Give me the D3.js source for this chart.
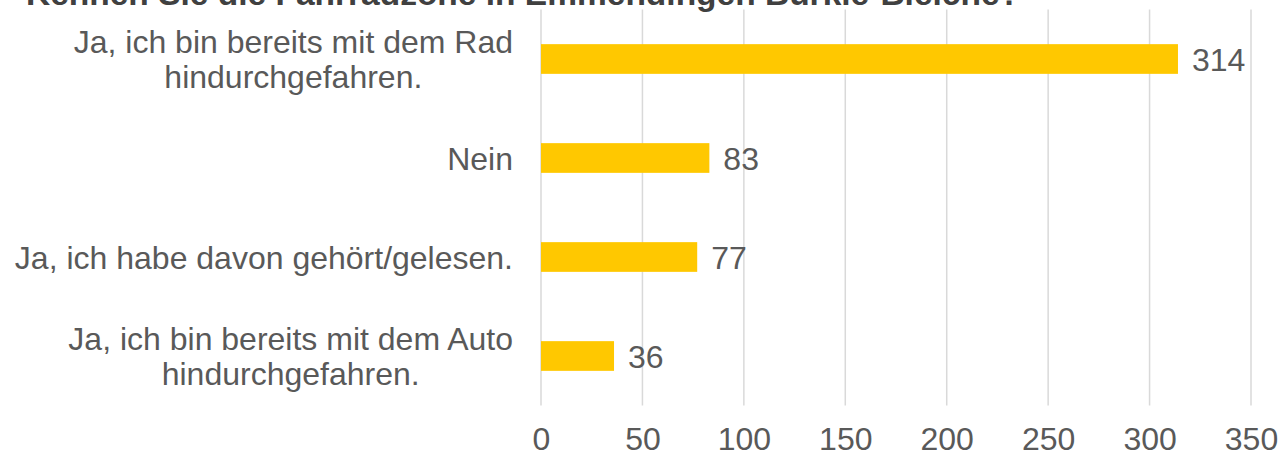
<!DOCTYPE html>
<html>
<head>
<meta charset="utf-8">
<script src="https://cdn.jsdelivr.net/npm/d3@7"></script>
<style>
  body { margin: 0; background: #fff; }
  text { font-family: 'Liberation Sans', Arial, sans-serif; fill: #595959; }
</style>
</head>
<body>
<div class="canvas"></div>
<script>
const title = 'Kennen Sie die Fahrradzone in Emmendingen Bürkle-Bleiche?';
const categories = [
    ['Ja, ich bin bereits mit dem Rad', 'hindurchgefahren.'],
    ['Nein'],
    ['Ja, ich habe davon gehört/gelesen.'],
    ['Ja, ich bin bereits mit dem Auto', 'hindurchgefahren.']
];
const values = [314, 83, 77, 36];
const xTicks = [0, 50, 100, 150, 200, 250, 300, 350];

const width = 1283, height = 458;
const margin = {top: 9.5, right: 32, bottom: 52.5, left: 541};
const fontSize = 32;

const svg = d3.select('.canvas')
    .append('svg')
        .attr('width', width)
        .attr('height', height);

// title, mostly cut off at the top like the original
svg.append('text')
    .attr('x', 523)
    .attr('y', 5)
    .attr('text-anchor', 'middle')
    .attr('font-size', 33.5)
    .attr('font-weight', 'bold')
    .style('fill', '#404040')
    .text(title);

const x = d3.scaleLinear()
    .domain([0, 350])
    .range([margin.left, width - margin.right]);

const y = d3.scaleBand()
    .domain(d3.range(categories.length))
    .range([margin.top, height - margin.bottom])
    .paddingInner(0.7)
    .paddingOuter(0.35);

// gridlines
svg.append('g')
    .selectAll('line')
    .data(xTicks)
    .enter()
    .append('line')
        .attr('x1', d => x(d))
        .attr('x2', d => x(d))
        .attr('y1', margin.top)
        .attr('y2', height - margin.bottom)
        .attr('stroke', '#d9d9d9')
        .attr('stroke-width', 1.5);

// x tick labels
const xAxis = svg.append('g')
    .attr('transform', `translate(0, ${height - margin.bottom})`)
    .call(d3.axisBottom(x).tickValues(xTicks).tickSize(0).tickPadding(22));
xAxis.select('.domain').remove();
xAxis.selectAll('text')
    .attr('font-size', fontSize)
    .attr('font-family', null)
    .attr('fill', '#595959');

// bars
svg.append('g')
    .selectAll('rect')
    .data(values)
    .enter()
    .append('rect')
        .attr('x', x(0))
        .attr('y', (d, i) => y(i))
        .attr('width', d => x(d) - x(0))
        .attr('height', y.bandwidth())
        .attr('fill', '#ffc800');

// value labels
svg.append('g')
    .selectAll('text')
    .data(values)
    .enter()
    .append('text')
        .attr('x', d => x(d) + 14)
        .attr('y', (d, i) => y(i) + y.bandwidth() / 2)
        .attr('dy', '0.36em')
        .attr('font-size', fontSize)
        .text(d => d);

// category labels, wrapped lines centred on each other, block right-aligned
const lineHeight = 35;
categories.forEach((lines, i) => {
    const g = svg.append('g');
    const texts = lines.map((l, j) => g.append('text')
        .attr('font-size', fontSize)
        .attr('text-anchor', 'middle')
        .attr('y', y(i) + y.bandwidth() / 2 + (j - (lines.length - 1) / 2) * lineHeight)
        .attr('dy', '0.36em')
        .text(l));
    const maxW = d3.max(texts, t => t.node().getComputedTextLength());
    texts.forEach(t => t.attr('x', x(0) - 28 - maxW / 2));
});
</script>
</body>
</html>
